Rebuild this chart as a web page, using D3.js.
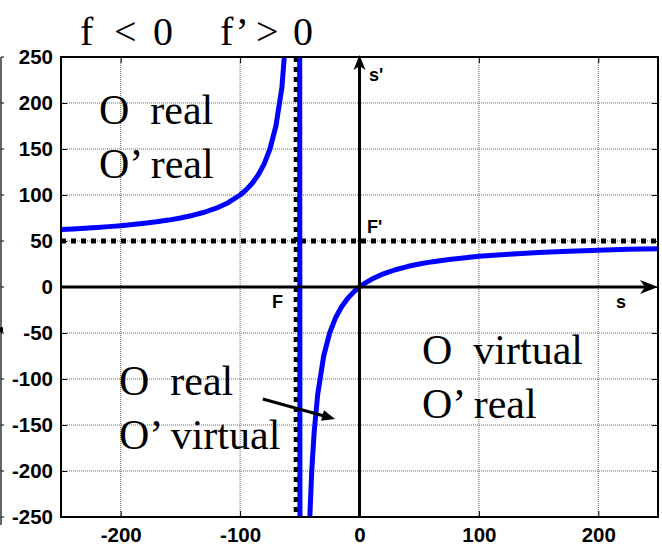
<!DOCTYPE html>
<html>
<head>
<meta charset="utf-8">
<script src="https://cdn.jsdelivr.net/npm/d3@7"></script>
<style>
  html, body { margin: 0; padding: 0; background: #fff; }
  svg { display: block; }
  .tick text { font-family: "Liberation Sans", Arial, sans-serif; font-weight: bold; font-size: 20.5px; fill: #000; }
  .serif { font-family: "Liberation Serif", "Times New Roman", serif; fill: #000; }
  .bold { font-family: "Liberation Sans", Arial, sans-serif; font-weight: bold; fill: #000; }
</style>
</head>
<body>
<svg id="chart" width="662" height="552"></svg>
<script>
// Object distance s against image distance s' for a lens with f' = 50
const sValues = [
  -250, -240, -230, -220, -210, -200, -190, -180, -170, -160, -150, -140, -130,
  -120, -110, -100, -95, -90, -85, -80, -75, -70, -65, -60, -55, -51,
  -49, -47, -45, -42, -40, -38, -35, -30, -25, -20, -15, -10, -5, 0,
  5, 10, 20, 30, 40, 50, 60, 75, 100, 125, 150, 175, 200, 225, 250
];
const sPrimeValues = [
  62.5, 63.16, 63.89, 64.71, 65.63, 66.67, 67.86, 69.23, 70.83, 72.73, 75, 77.78, 81.25,
  85.71, 91.67, 100, 105.6, 112.5, 121.4, 133.3, 150, 175, 216.7, 300, 550, 2550,
  -2450, -783.3, -450, -262.5, -200, -158.3, -116.7, -75, -50, -33.3, -21.4, -12.5, -5.56, 0,
  4.55, 8.33, 14.29, 18.75, 22.22, 25, 27.27, 30, 33.33, 35.71, 37.5, 38.89, 40, 40.91, 41.67
];
const xTicks = [-200, -100, 0, 100, 200];
const yTicks = [-250, -200, -150, -100, -50, 0, 50, 100, 150, 200, 250];
const focalS = -53;       // dotted marker of the object focal point F
const focalSPrime = 50;   // dotted marker of the image focal point F'
const pointerFrom = [-81, -121.7];
const pointerTo = [-20.5, -143.5];

const svg = d3.select("#chart");
const pL = 61, pR = 658, pT = 57, pB = 517;

const x = d3.scaleLinear().domain([-250, 250]).range([pL, pR]);
const y = d3.scaleLinear().domain([-250, 250]).range([pB, pT]);
const plain = v => String(v);   // ASCII hyphen for negative labels

svg.append("defs").append("clipPath").attr("id", "plotClip")
  .append("rect").attr("x", pL).attr("y", pT)
  .attr("width", pR - pL).attr("height", pB - pT);

// stray axis fragment along the left edge
const stray = svg.append("g");
stray.append("line").attr("x1", 1).attr("x2", 1).attr("y1", pT).attr("y2", pB + 8)
  .attr("stroke", "#000").attr("stroke-width", 1.2);
yTicks.forEach(v => {
  stray.append("line").attr("x1", 1).attr("x2", 4).attr("y1", y(v)).attr("y2", y(v))
    .attr("stroke", "#000").attr("stroke-width", 1);
});
stray.append("rect").attr("x", 0).attr("y", y(-47) - 3).attr("width", 3).attr("height", 5).attr("fill", "#000");

// grid
const grid = svg.append("g");
xTicks.forEach(v => {
  grid.append("line").attr("x1", x(v)).attr("x2", x(v)).attr("y1", pT).attr("y2", pB)
    .attr("stroke", "#666").attr("stroke-width", 1).attr("stroke-dasharray", "1,1");
});
yTicks.slice(1, -1).forEach(v => {
  grid.append("line").attr("x1", pL).attr("x2", pR).attr("y1", y(v)).attr("y2", y(v))
    .attr("stroke", "#666").attr("stroke-width", 1).attr("stroke-dasharray", "1,1");
});

// axes with inward ticks on all four sides
const gl = svg.append("g").attr("transform", `translate(${pL},0)`)
  .call(d3.axisLeft(y).tickValues(yTicks).tickFormat(plain).tickSize(-6).tickPadding(8));
const gb = svg.append("g").attr("transform", `translate(0,${pB})`)
  .call(d3.axisBottom(x).tickValues(xTicks).tickFormat(plain).tickSize(-6).tickPadding(10));
const gr = svg.append("g").attr("transform", `translate(${pR},0)`)
  .call(d3.axisRight(y).tickValues(yTicks).tickSize(-6).tickFormat(""));
const gt = svg.append("g").attr("transform", `translate(0,${pT})`)
  .call(d3.axisTop(x).tickValues(xTicks).tickSize(-6).tickFormat(""));
[gl, gb, gr, gt].forEach(g => {
  g.select(".domain").remove();
  g.selectAll(".tick line").attr("stroke", "#000").attr("stroke-width", 1);
});

// focal markers
const plot = svg.append("g").attr("clip-path", "url(#plotClip)");
plot.append("line").attr("x1", pL).attr("x2", pR)
  .attr("y1", y(focalSPrime)).attr("y2", y(focalSPrime))
  .attr("stroke", "#000").attr("stroke-width", 5).attr("stroke-dasharray", "5,5");
plot.append("line").attr("x1", x(focalS)).attr("x2", x(focalS))
  .attr("y1", pT).attr("y2", pB)
  .attr("stroke", "#000").attr("stroke-width", 5).attr("stroke-dasharray", "5,5");

// coordinate axes with arrows
svg.append("line").attr("x1", pL).attr("x2", pR - 8).attr("y1", y(0)).attr("y2", y(0))
  .attr("stroke", "#000").attr("stroke-width", 3);
svg.append("line").attr("x1", x(0)).attr("x2", x(0)).attr("y1", pB).attr("y2", pT + 8)
  .attr("stroke", "#000").attr("stroke-width", 3);
const ax = x(250), ay = y(0);
svg.append("path")
  .attr("d", `M${ax},${ay} L${ax - 18},${ay - 7} L${ax - 13},${ay} L${ax - 18},${ay + 7} Z`)
  .attr("fill", "#000");
const bx = x(0), by = y(250) - 2;
svg.append("path")
  .attr("d", `M${bx},${by} L${bx - 6},${by + 15} L${bx},${by + 11} L${bx + 6},${by + 15} Z`)
  .attr("fill", "#000");

// image distance curve
const pts = sValues.map((s, i) => [s, sPrimeValues[i]]);
plot.append("path")
  .datum(pts)
  .attr("d", d3.line().x(d => x(d[0])).y(d => y(d[1])))
  .attr("fill", "none").attr("stroke", "#0000ff").attr("stroke-width", 5)
  .attr("stroke-linejoin", "round");

// plot box
svg.append("rect").attr("x", pL).attr("y", pT)
  .attr("width", pR - pL).attr("height", pB - pT)
  .attr("fill", "none").attr("stroke", "#000").attr("stroke-width", 2);

// axis letters
svg.append("text").attr("class", "bold").attr("x", 369).attr("y", 81).attr("font-size", 18).text("s'");
svg.append("text").attr("class", "bold").attr("x", 367).attr("y", 233).attr("font-size", 18).text("F'");
svg.append("text").attr("class", "bold").attr("x", 616).attr("y", 308).attr("font-size", 18).text("s");
svg.append("text").attr("class", "bold").attr("x", 272).attr("y", 308).attr("font-size", 18).text("F");

// title
const title = svg.append("text").attr("class", "serif").attr("font-size", 40).attr("y", 45);
title.append("tspan").attr("x", 80).text("f");
title.append("tspan").attr("x", 114).text("<");
title.append("tspan").attr("x", 153).text("0");
title.append("tspan").attr("x", 220).text("f’");
title.append("tspan").attr("x", 256).text(">");
title.append("tspan").attr("x", 293).text("0");

// region labels
function region(xp, yp, first, second) {
  const t = svg.append("text").attr("class", "serif").attr("font-size", 42)
    .style("white-space", "pre");
  t.append("tspan").attr("x", xp).attr("y", yp).text(first);
  t.append("tspan").attr("x", xp).attr("y", yp + 54).text(second);
}
region(99, 124, "O  real", "O’ real");
region(119, 395, "O  real", "O’ virtual");
region(422, 364, "O  virtual", "O’ real");

// pointer from the label to the lower branch
const p0 = [x(pointerFrom[0]), y(pointerFrom[1])];
const p1 = [x(pointerTo[0]), y(pointerTo[1])];
const dx = p1[0] - p0[0], dy = p1[1] - p0[1];
const len = Math.hypot(dx, dy), ux = dx / len, uy = dy / len;
const hl = 13, hw = 5.5;
svg.append("line").attr("x1", p0[0]).attr("y1", p0[1])
  .attr("x2", p1[0] - ux * hl * 0.8).attr("y2", p1[1] - uy * hl * 0.8)
  .attr("stroke", "#000").attr("stroke-width", 3);
svg.append("path")
  .attr("d", `M${p1[0]},${p1[1]} L${p1[0] - ux * hl - uy * hw},${p1[1] - uy * hl + ux * hw} L${p1[0] - ux * hl + uy * hw},${p1[1] - uy * hl - ux * hw} Z`)
  .attr("fill", "#000");
</script>
</body>
</html>
